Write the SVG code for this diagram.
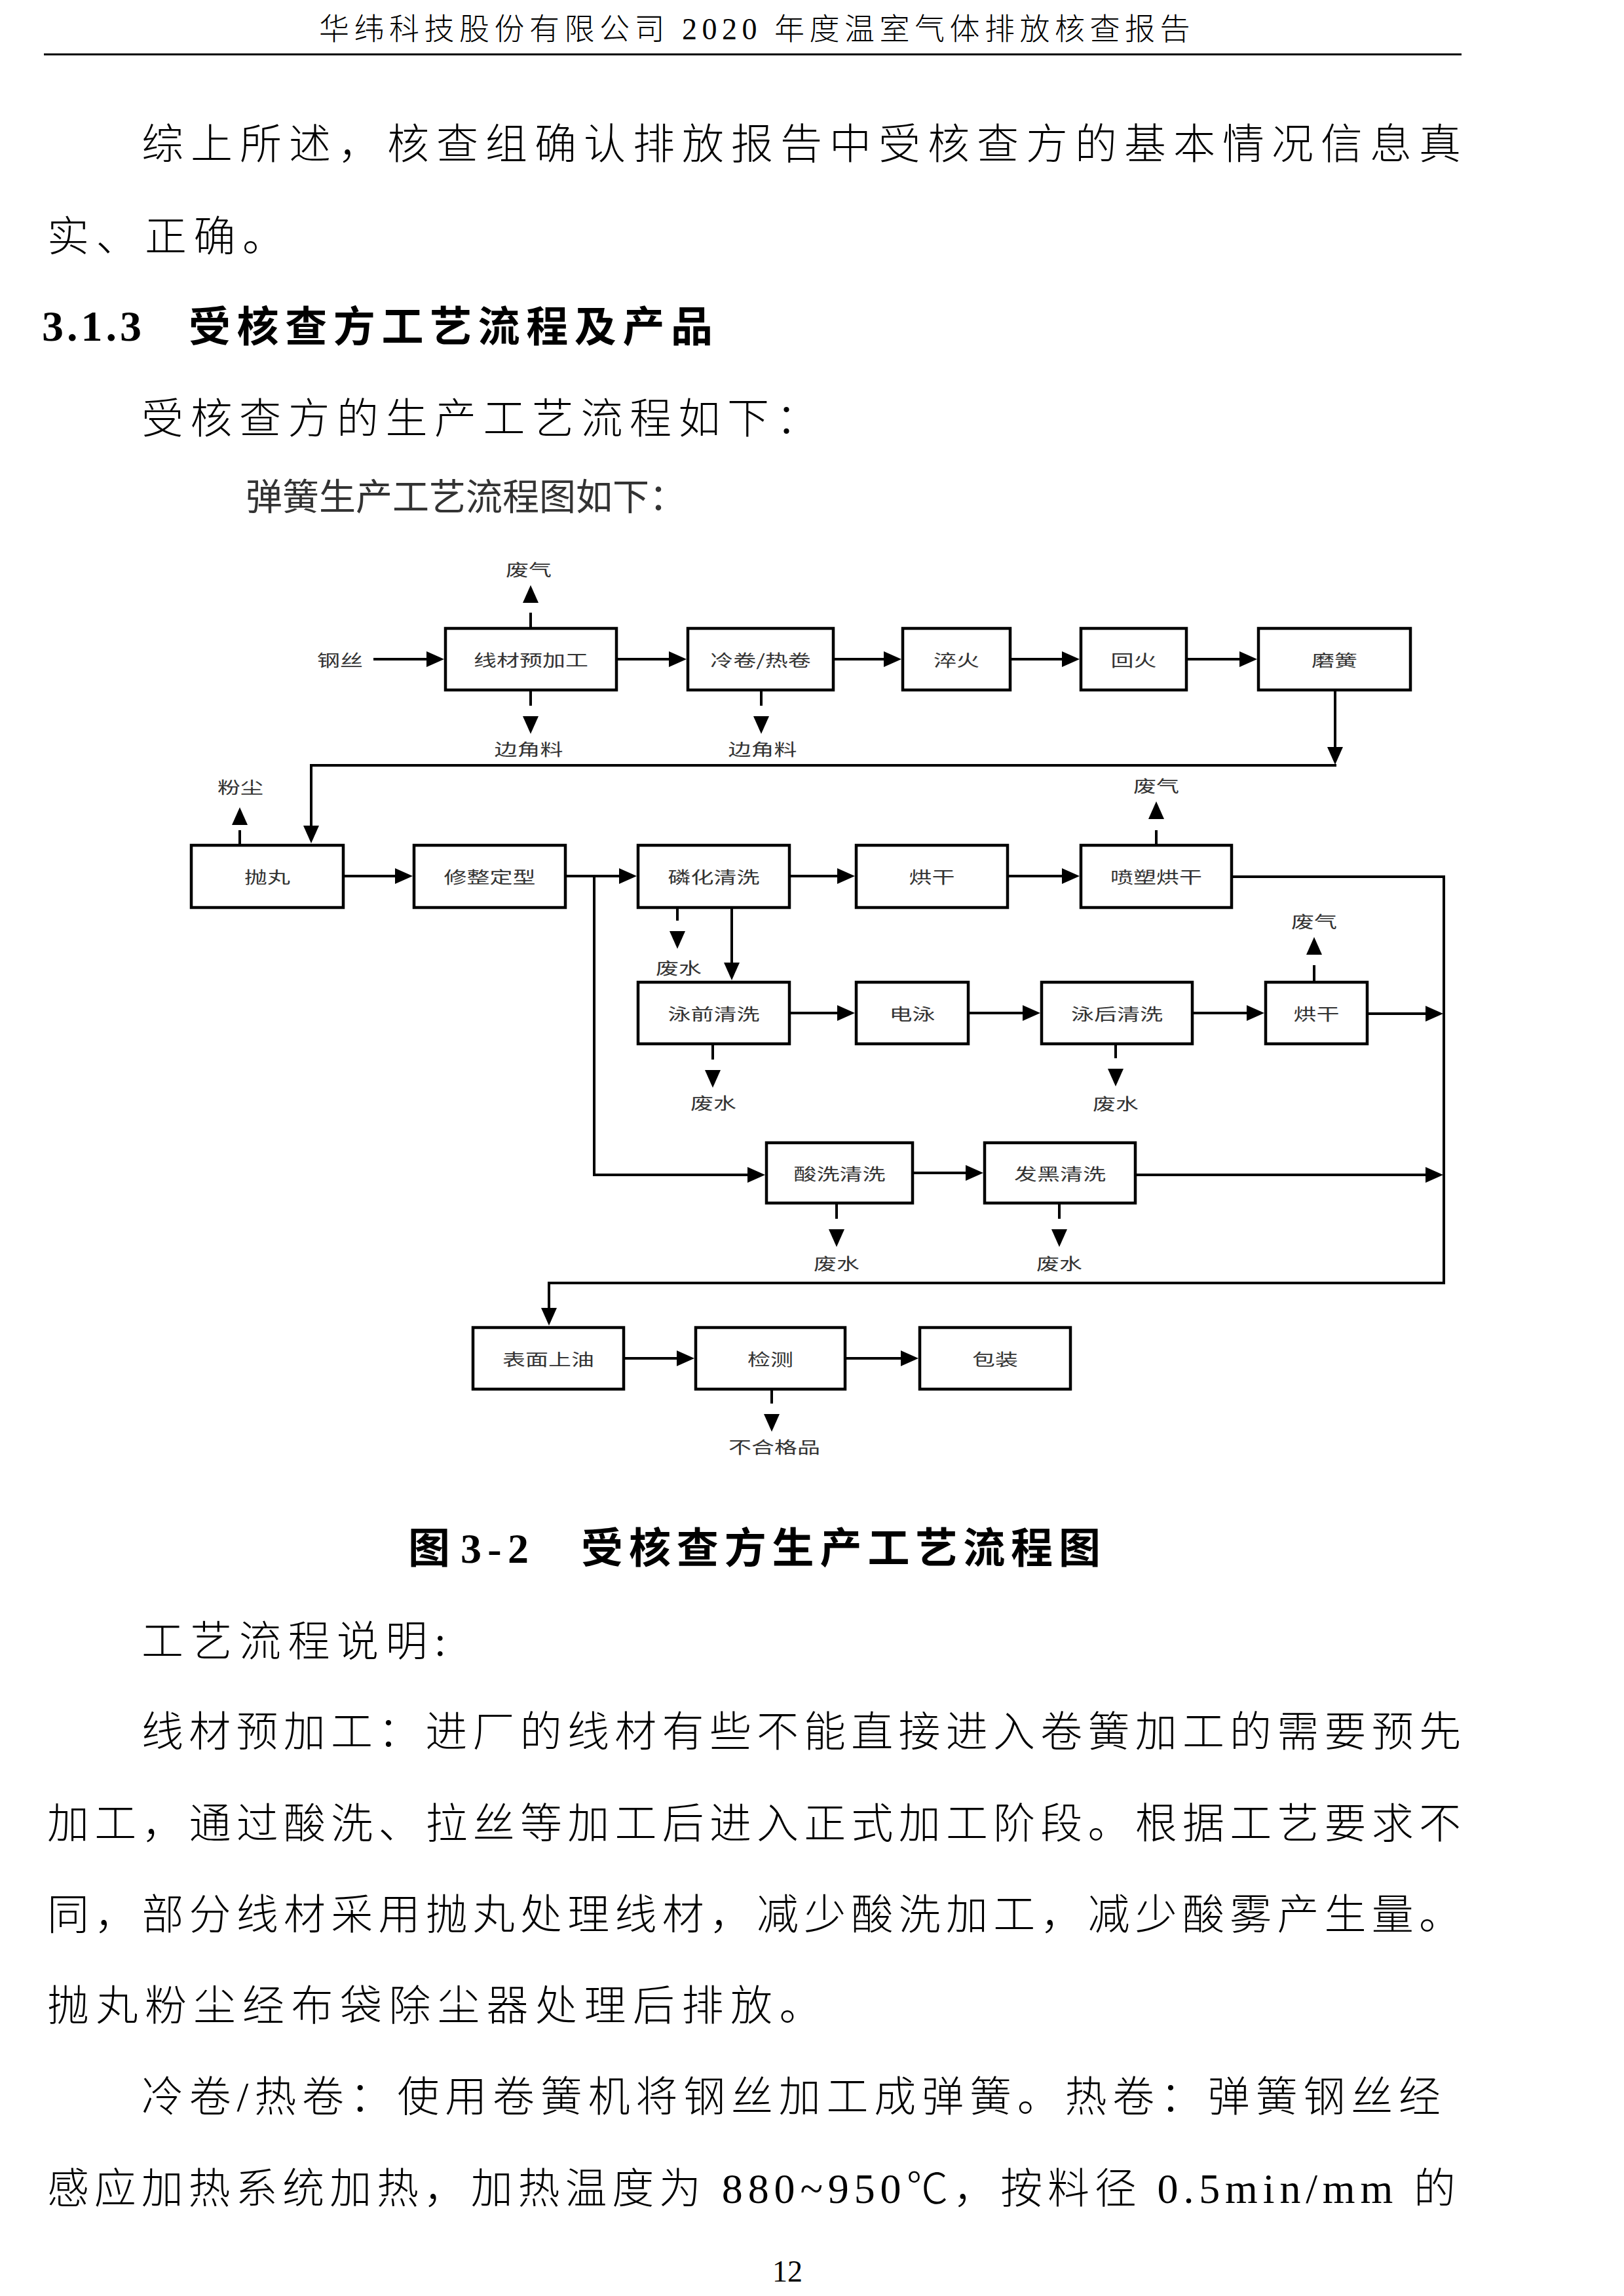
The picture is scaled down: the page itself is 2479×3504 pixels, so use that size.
<svg xmlns="http://www.w3.org/2000/svg" width="2479" height="3504" viewBox="0 0 2479 3504">
<style>
.body{font-family:"Liberation Serif","Noto Sans CJK SC",serif;font-size:64px;font-weight:300;fill:#000}
.ls{letter-spacing:10.5px}
.b{font-weight:700}
.box{fill:#fff;stroke:#000;stroke-width:4.5}
.lbl{font-family:"Noto Sans CJK SC","Liberation Sans",sans-serif;font-size:25px;fill:#333;text-anchor:middle}
.ln{fill:none;stroke:#000;stroke-width:4;stroke-linejoin:miter}
</style>
<defs>
<path id="ah" d="M0,0 L-27,-12 L-27,12 Z" fill="#000"/>
</defs>
<rect width="2479" height="3504" fill="#fff"/>

<g id="page-text">
<text class="body" x="487" y="60" style="font-size:46px;letter-spacing:7.5px">华纬科技股份有限公司 2020 年度温室气体排放核查报告</text>
<line x1="67" y1="83" x2="2231" y2="83" stroke="#000" stroke-width="3"/>
<text class="body" x="216" y="242" textLength="2014" lengthAdjust="spacing">综上所述，核查组确认排放报告中受核查方的基本情况信息真</text>
<text class="body ls" x="72" y="383">实、正确。</text>
<text class="body b" x="64" y="520" style="font-size:66px" textLength="152" lengthAdjust="spacing">3.1.3</text>
<text class="body b" x="288" y="521" textLength="800" lengthAdjust="spacing">受核查方工艺流程及产品</text>
<text class="body ls" x="216" y="661">受核查方的生产工艺流程如下：</text>
<text x="375" y="778" font-family="Noto Sans CJK SC, sans-serif" font-size="56" fill="#333">弹簧生产工艺流程图如下：</text>
</g>

<g id="connectors">
<path class="ln" d="M570,1006 H668 M943,1006 H1038 M1274,1006 H1366 M1544,1006 H1638 M1813,1006 H1909"/>
<path class="ln" d="M2038,1055 V1156"/>
<path class="ln" d="M2040,1168 H475 V1277"/>
<path class="ln" d="M526,1337 H620 M865,1337 H962 M1207,1337 H1295 M1540,1337 H1638"/>
<path class="ln" d="M907,1337 V1793 H1158"/>
<path class="ln" d="M1882,1338 H2204 V1958 H838 V2012"/>
<path class="ln" d="M1117,1387 V1485"/>
<path class="ln" d="M1207,1546 H1295 M1480,1546 H1578 M1822,1546 H1920 M2089,1547 H2192"/>
<path class="ln" d="M1395,1790 H1491 M1735,1793 H2192"/>
<path class="ln" d="M954,2073 H1050 M1292,2073 H1392"/>
<path class="ln" d="M810,1055 V1077 M1162,1055 V1077 M1034,1387 V1405 M1088,1595 V1617 M1703,1595 V1615 M1277,1838 V1860 M1617,1838 V1860 M1178,2122 V2142"/>
<path class="ln" d="M810,957 V935 M366,1288 V1267 M1765,1288 V1267 M2006,1497 V1473"/>
<use href="#ah" transform="translate(678,1006)"/>
<use href="#ah" transform="translate(1048,1006)"/>
<use href="#ah" transform="translate(1376,1006)"/>
<use href="#ah" transform="translate(1648,1006)"/>
<use href="#ah" transform="translate(1919,1006)"/>
<use href="#ah" transform="translate(2038,1167) rotate(90)"/>
<use href="#ah" transform="translate(475,1287) rotate(90)"/>
<use href="#ah" transform="translate(630,1337)"/>
<use href="#ah" transform="translate(972,1337)"/>
<use href="#ah" transform="translate(1305,1337)"/>
<use href="#ah" transform="translate(1648,1337)"/>
<use href="#ah" transform="translate(1168,1793)"/>
<use href="#ah" transform="translate(1117,1496) rotate(90)"/>
<use href="#ah" transform="translate(1305,1546)"/>
<use href="#ah" transform="translate(1588,1546)"/>
<use href="#ah" transform="translate(1930,1546)"/>
<use href="#ah" transform="translate(2203,1547)"/>
<use href="#ah" transform="translate(1501,1790)"/>
<use href="#ah" transform="translate(2203,1793)"/>
<use href="#ah" transform="translate(838,2023) rotate(90)"/>
<use href="#ah" transform="translate(1060,2073)"/>
<use href="#ah" transform="translate(1402,2073)"/>
<use href="#ah" transform="translate(810,1120) rotate(90)"/>
<use href="#ah" transform="translate(1162,1120) rotate(90)"/>
<use href="#ah" transform="translate(1034,1448) rotate(90)"/>
<use href="#ah" transform="translate(1088,1660) rotate(90)"/>
<use href="#ah" transform="translate(1703,1658) rotate(90)"/>
<use href="#ah" transform="translate(1277,1903) rotate(90)"/>
<use href="#ah" transform="translate(1617,1903) rotate(90)"/>
<use href="#ah" transform="translate(1178,2185) rotate(90)"/>
<use href="#ah" transform="translate(810,893) rotate(-90)"/>
<use href="#ah" transform="translate(366,1232) rotate(-90)"/>
<use href="#ah" transform="translate(1765,1223) rotate(-90)"/>
<use href="#ah" transform="translate(2006,1430) rotate(-90)"/>
</g>

<g id="n-gangsi"><text class="lbl" transform="translate(519,1017) scale(1.4,1)">钢丝</text></g>
<g id="n1"><rect class="box" x="680" y="959" width="261" height="94"/><text class="lbl" transform="translate(810.5,1017) scale(1.4,1)">线材预加工</text></g>
<g id="n2"><rect class="box" x="1050" y="959" width="222" height="94"/><text class="lbl" transform="translate(1161,1017) scale(1.4,1)">冷卷/热卷</text></g>
<g id="n3"><rect class="box" x="1378" y="959" width="164" height="94"/><text class="lbl" transform="translate(1460,1017) scale(1.4,1)">淬火</text></g>
<g id="n4"><rect class="box" x="1650" y="959" width="161" height="94"/><text class="lbl" transform="translate(1730.5,1017) scale(1.4,1)">回火</text></g>
<g id="n5"><rect class="box" x="1921" y="959" width="232" height="94"/><text class="lbl" transform="translate(2037,1017) scale(1.4,1)">磨簧</text></g>
<g id="n6"><rect class="box" x="292" y="1290" width="232" height="95"/><text class="lbl" transform="translate(408,1348) scale(1.4,1)">抛丸</text></g>
<g id="n7"><rect class="box" x="632" y="1290" width="231" height="95"/><text class="lbl" transform="translate(747.5,1348) scale(1.4,1)">修整定型</text></g>
<g id="n8"><rect class="box" x="974" y="1290" width="231" height="95"/><text class="lbl" transform="translate(1089.5,1348) scale(1.4,1)">磷化清洗</text></g>
<g id="n9"><rect class="box" x="1307" y="1290" width="231" height="95"/><text class="lbl" transform="translate(1422.5,1348) scale(1.4,1)">烘干</text></g>
<g id="n10"><rect class="box" x="1650" y="1290" width="230" height="95"/><text class="lbl" transform="translate(1765,1348) scale(1.4,1)">喷塑烘干</text></g>
<g id="n11"><rect class="box" x="974" y="1499" width="231" height="94"/><text class="lbl" transform="translate(1089.5,1557) scale(1.4,1)">泳前清洗</text></g>
<g id="n12"><rect class="box" x="1307" y="1499" width="171" height="94"/><text class="lbl" transform="translate(1392.5,1557) scale(1.4,1)">电泳</text></g>
<g id="n13"><rect class="box" x="1590" y="1499" width="230" height="94"/><text class="lbl" transform="translate(1705,1557) scale(1.4,1)">泳后清洗</text></g>
<g id="n14"><rect class="box" x="1932" y="1499" width="155" height="94"/><text class="lbl" transform="translate(2009.5,1557) scale(1.4,1)">烘干</text></g>
<g id="n15"><rect class="box" x="1170" y="1744" width="223" height="92"/><text class="lbl" transform="translate(1281.5,1801) scale(1.4,1)">酸洗清洗</text></g>
<g id="n16"><rect class="box" x="1503" y="1744" width="230" height="92"/><text class="lbl" transform="translate(1618,1801) scale(1.4,1)">发黑清洗</text></g>
<g id="n17"><rect class="box" x="722" y="2026" width="230" height="94"/><text class="lbl" transform="translate(837,2084) scale(1.4,1)">表面上油</text></g>
<g id="n18"><rect class="box" x="1062" y="2026" width="228" height="94"/><text class="lbl" transform="translate(1176,2084) scale(1.4,1)">检测</text></g>
<g id="n19"><rect class="box" x="1404" y="2026" width="230" height="94"/><text class="lbl" transform="translate(1519,2084) scale(1.4,1)">包装</text></g>

<g id="out-feiqi1"><text class="lbl" transform="translate(807,879) scale(1.4,1)">废气</text></g>
<g id="out-bianjiao1"><text class="lbl" transform="translate(807,1153) scale(1.4,1)">边角料</text></g>
<g id="out-bianjiao2"><text class="lbl" transform="translate(1164,1153) scale(1.4,1)">边角料</text></g>
<g id="out-fenchen"><text class="lbl" transform="translate(367,1211) scale(1.4,1)">粉尘</text></g>
<g id="out-feiqi2"><text class="lbl" transform="translate(1765,1209) scale(1.4,1)">废气</text></g>
<g id="out-feishui1"><text class="lbl" transform="translate(1036,1487) scale(1.4,1)">废水</text></g>
<g id="out-feiqi3"><text class="lbl" transform="translate(2006,1416) scale(1.4,1)">废气</text></g>
<g id="out-feishui2"><text class="lbl" transform="translate(1089,1693) scale(1.4,1)">废水</text></g>
<g id="out-feishui3"><text class="lbl" transform="translate(1703,1694) scale(1.4,1)">废水</text></g>
<g id="out-feishui4"><text class="lbl" transform="translate(1277,1938) scale(1.4,1)">废水</text></g>
<g id="out-feishui5"><text class="lbl" transform="translate(1617,1938) scale(1.4,1)">废水</text></g>
<g id="out-buhege"><text class="lbl" transform="translate(1182,2218) scale(1.4,1)">不合格品</text></g>

<g id="page-text-2">
<text class="body b" x="623" y="2385">图</text>
<text class="body b" x="703" y="2385" textLength="104" lengthAdjust="spacing">3-2</text>
<text class="body b" x="887" y="2385" textLength="793" lengthAdjust="spacing">受核查方生产工艺流程图</text>
<text class="body ls" x="216" y="2527">工艺流程说明:</text>
<text class="body" x="216" y="2665" textLength="2014" lengthAdjust="spacing">线材预加工：进厂的线材有些不能直接进入卷簧加工的需要预先</text>
<text class="body" x="72" y="2805" textLength="2158" lengthAdjust="spacing">加工，通过酸洗、拉丝等加工后进入正式加工阶段。根据工艺要求不</text>
<text class="body" x="72" y="2944" textLength="2158" lengthAdjust="spacing">同，部分线材采用抛丸处理线材，减少酸洗加工，减少酸雾产生量。</text>
<text class="body ls" x="72" y="3083">抛丸粉尘经布袋除尘器处理后排放。</text>
<text class="body" x="216" y="3222" textLength="1983" lengthAdjust="spacing">冷卷/热卷：使用卷簧机将钢丝加工成弹簧。热卷：弹簧钢丝经</text>
<text class="body" x="72" y="3362" textLength="2150" lengthAdjust="spacing">感应加热系统加热，加热温度为 880~950℃，按料径 0.5min/mm 的</text>
<text class="body" x="1202" y="3482" style="font-size:46px" text-anchor="middle">12</text>
</g>
</svg>
